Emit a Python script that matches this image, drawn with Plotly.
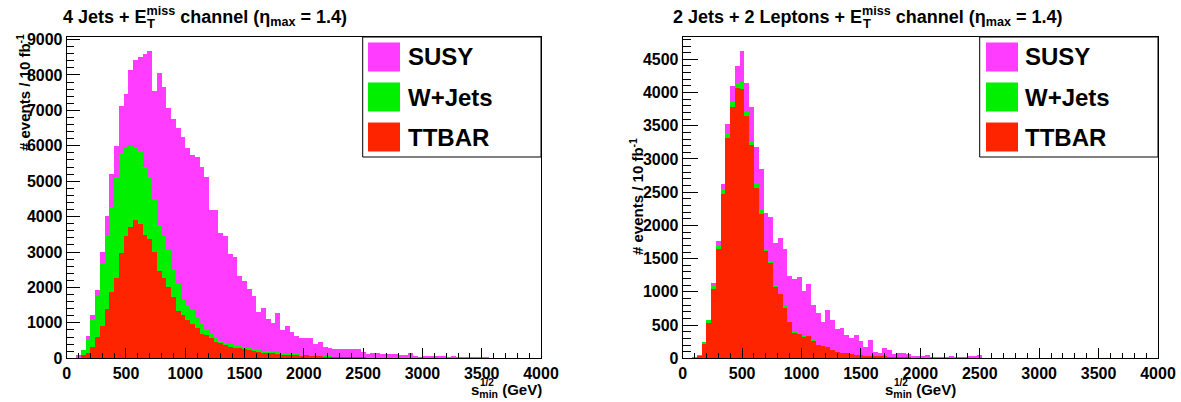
import plotly.graph_objects as go

W, H = 1181, 402

# ---------------- data (40 GeV bins, 0..4000 GeV) ----------------
bin_lo = list(range(0, 4000, 40))
bin_centers = [b + 20 for b in bin_lo]

# Left panel: 4 Jets + MET  (stacked heights as drawn: ttbar, ttbar+W, ttbar+W+SUSY)
left_ttbar = [0, 0, 20, 90, 150, 320, 600, 900, 1400, 1880, 2270, 2975, 3450, 3695, 3905, 3790,
              3490, 3370, 3005, 2460, 2270, 2020, 1725, 1340, 1220, 1085, 975, 845, 685, 650,
              580, 465, 435, 370, 320, 300, 280, 260, 240, 220, 170, 150, 140, 140, 130, 100,
              95, 85, 80, 75, 80, 70, 60, 55, 50, 45, 40, 40, 35, 30, 30, 25, 25, 20, 20, 15,
              15, 12, 10, 10, 8, 8, 6, 6, 5, 5, 4, 4, 3, 3, 2, 2, 2, 2, 1, 1, 1, 1, 1, 1,
              0, 0, 0, 0, 0, 0, 0, 0, 0, 0]
left_wjets = [0, 0, 40, 226, 555, 1119, 1750, 2653, 3471, 4271, 5117, 5757, 5936, 6002, 5980, 5855,
              5410, 5080, 4460, 3755, 3440, 3050, 2495, 2095, 1660, 1490, 1350, 1180, 1000, 840,
              700, 610, 500, 440, 400, 370, 340, 310, 280, 260, 235, 220, 200, 185, 170, 150,
              135, 125, 115, 105, 95, 85, 78, 70, 62, 56, 50, 46, 42, 38, 34, 30, 28, 25, 22, 20,
              18, 15, 14, 12, 11, 10, 9, 8, 7, 6, 6, 5, 5, 4, 4, 3, 3, 3, 2, 2, 2, 2, 1, 1,
              1, 1, 1, 0, 0, 0, 0, 0, 0, 0]
left_susy = [0, 10, 80, 245, 621, 1214, 1938, 3000, 4007, 5211, 5983, 7112, 7469, 8146, 8429, 8504,
             8580, 8673, 7550, 8050, 7650, 7060, 6750, 6490, 6260, 5930, 5740, 5680, 5400, 5130,
             4180, 4180, 3550, 3450, 2950, 2850, 2320, 2190, 1950, 1750, 1320, 1430, 1100, 1010,
             1280, 790, 900, 730, 640, 570, 565, 560, 415, 460, 310, 285, 275, 272, 270, 255,
             255, 250, 180, 115, 140, 140, 130, 125, 110, 110, 105, 95, 140, 66, 50, 70, 65, 60,
             75, 55, 50, 55, 45, 40, 45, 35, 30, 25, 30, 20, 15, 15, 12, 10, 10, 8, 6, 5, 4, 3]

# Right panel: 2 Jets + 2 Leptons + MET
right_ttbar = [0, 0, 10, 40, 220, 537, 1039, 1641, 2469, 3317, 3783, 4069, 4054, 3643, 3216, 2569,
               2168, 1611, 1435, 1074, 968, 763, 552, 386, 371, 321, 331, 261, 196, 181, 171, 130,
               100, 80, 75, 60, 45, 45, 40, 35, 35, 30, 30, 25, 20, 20, 15, 15, 12, 10, 10, 8,
               8, 6, 6, 5, 5, 4, 4, 3, 3, 2, 2, 2, 2, 1, 1, 1, 1, 1, 1, 0, 0, 0, 0, 0, 0, 0,
               0, 0, 0, 0, 0, 0, 0, 0, 0, 0, 0, 0, 0, 0, 0, 0, 0, 0, 0, 0, 0, 0]
right_wjets = [0, 0, 15, 50, 240, 572, 1084, 1711, 2549, 3392, 3874, 4145, 4155, 3708, 3266, 2624,
               2228, 1651, 1465, 1099, 978, 783, 567, 396, 380, 330, 340, 268, 202, 187, 176, 135,
               104, 84, 78, 63, 48, 47, 42, 37, 37, 32, 31, 26, 21, 21, 16, 16, 13, 11, 11, 9,
               9, 7, 7, 6, 6, 5, 5, 4, 4, 3, 3, 3, 3, 2, 2, 2, 2, 2, 2, 1, 1, 1, 0, 0, 0, 0,
               0, 0, 0, 0, 0, 0, 0, 0, 0, 0, 0, 0, 0, 0, 0, 0, 0, 0, 0, 0, 0, 0]
right_susy = [0, 0, 15, 55, 246, 575, 1139, 1766, 2629, 3522, 4099, 4395, 4621, 4150, 3783, 3181,
              2855, 2188, 2127, 1736, 1806, 1646, 1240, 1200, 1220, 1010, 1120, 800, 680, 550, 720,
              570, 440, 450, 356, 306, 346, 261, 166, 276, 95, 75, 150, 125, 65, 85, 75, 60, 30,
              30, 30, 45, 25, 25, 20, 20, 35, 15, 15, 15, 40, 30, 50, 10, 5, 5, 4, 4, 3, 3, 2,
              2, 2, 2, 1, 1, 1, 1, 1, 1, 0, 0, 0, 0, 0, 0, 0, 0, 0, 0, 0, 0, 0, 0, 0, 0, 0, 0, 0, 0]

series_names = ["SUSY", "W+Jets", "TTBAR"]
series_colors = ["#FF3CFF", "#00F000", "#FF2400"]

x_tick_vals = [0, 500, 1000, 1500, 2000, 2500, 3000, 3500, 4000]
left_title = "4 Jets + E"
right_title = "2 Jets + 2 Leptons + E"
y_title = "# events / 10 fb<sup>-1</sup>"

FONT = "Liberation Sans, Arial, Helvetica, sans-serif"

# Helvetica-Bold advance widths (per 1000 em) for text placement
HB = {' ': 278, '(': 333, ')': 333, '+': 584, '-': 333, '.': 278, '/': 278, '=': 584,
      'E': 667, 'G': 778, 'J': 556, 'L': 611, 'T': 611, 'V': 667,
      'a': 556, 'c': 556, 'e': 556, 'h': 611, 'i': 278, 'l': 278, 'm': 889, 'n': 611,
      'o': 611, 'p': 611, 's': 556, 't': 333, 'x': 556, 'η': 600}


def tw(s, size):
    return sum(HB.get(c, 556) for c in s) / 1000.0 * size


def px(x):
    return x / W


def py(y):
    return 1 - y / H


fig = go.Figure()

panels = [
    dict(xa="x", ya="y", stacks=[left_susy, left_wjets, left_ttbar]),
    dict(xa="x2", ya="y2", stacks=[right_susy, right_wjets, right_ttbar]),
]
for p in panels:
    for name, col, vals in zip(series_names, series_colors, p["stacks"]):
        fig.add_trace(go.Bar(x=bin_centers, y=vals, width=40, name=name,
                             marker=dict(color=col, line=dict(width=0)),
                             opacity=1, xaxis=p["xa"], yaxis=p["ya"], showlegend=False,
                             hoverinfo="skip"))

TICKFONT = dict(family=FONT, size=16, color="black", weight="bold")
ydom = [py(358.3), py(37)]
common_x = dict(range=[0, 4000], tickvals=x_tick_vals, ticks="inside", ticklen=10, tickwidth=1,
                tickcolor="black", minor=dict(ticks="inside", ticklen=5, dtick=100, tick0=0,
                                              tickcolor="black", tickwidth=1),
                showline=True, linecolor="black", linewidth=1, mirror=True, showgrid=False,
                zeroline=False, tickfont=TICKFONT, automargin=False, fixedrange=True)
common_y = dict(ticks="inside", tickwidth=1, tickcolor="black", showline=True, linecolor="black",
                linewidth=1, mirror=True, showgrid=False, zeroline=False, tickformat="d",
                tickfont=TICKFONT, automargin=False, fixedrange=True)

fig.update_layout(
    width=W, height=H, margin=dict(l=0, r=0, t=0, b=0, autoexpand=False),
    paper_bgcolor="white", plot_bgcolor="white",
    barmode="overlay", bargap=0, showlegend=False,
    xaxis=dict(domain=[px(66.7), px(541)], anchor="y", **common_x),
    xaxis2=dict(domain=[px(682.7), px(1158)], anchor="y2", **common_x),
    yaxis=dict(domain=ydom, anchor="x", range=[0, 9072], dtick=1000, ticklen=13,
               minor=dict(ticks="inside", ticklen=7, dtick=200, tickcolor="black", tickwidth=1),
               **common_y),
    yaxis2=dict(domain=ydom, anchor="x2", range=[0, 4836], dtick=500, ticklen=15,
                minor=dict(ticks="inside", ticklen=8, dtick=100, tickcolor="black", tickwidth=1),
                **common_y),
)

shapes = []
annotations = []


def ann(text, x, y, size, xanchor="left", yanchor="middle", angle=0):
    annotations.append(dict(text="<b>" + text + "</b>", x=px(x), y=py(y), xref="paper",
                            yref="paper", xanchor=xanchor, yanchor=yanchor, showarrow=False,
                            textangle=angle, borderpad=0,
                            font=dict(family=FONT, size=size, color="black")))


# Legends (drawn as boxes + text)
for bx, sx, tx in [(362.7, 368, 406.7), (979.7, 986, 1024)]:
    shapes.append(dict(type="rect", xref="paper", yref="paper", x0=px(bx), x1=px(bx + 178.3),
                       y0=py(157), y1=py(37), line=dict(color="black", width=1),
                       fillcolor="white", layer="above"))
    for i, (name, col) in enumerate(zip(series_names, series_colors)):
        yc = 57 + 40 * i
        shapes.append(dict(type="rect", xref="paper", yref="paper", x0=px(sx), x1=px(sx + 32),
                           y0=py(yc + 14.5), y1=py(yc - 14.5), line=dict(width=0),
                           fillcolor=col, layer="above"))
        ann(name, tx, yc, 24)

# Titles with stacked super/subscript
TS = 18
for x0, pre in [(62, left_title), (672, right_title)]:
    ann(pre + "<sup>miss</sup> channel (η<sub>max</sub> = 1.4)", x0, 16, TS)
    ann("T", x0 + tw(pre, TS) + 0.5, 24, round(TS * 0.7))

# x axis titles: s^{1/2}_{min} (GeV)
XS = 15
xt_w = tw("s", XS) + tw("min", XS * 0.7) + tw(" (GeV)", XS)
for x0 in [541 - xt_w, 920 - xt_w / 2]:
    ann("s<sub>min</sub> (GeV)", x0, 390, XS)
    ann("1/2", x0 + tw("s", XS) + 0.5, 382, round(XS * 0.7))

# y axis titles
ann(y_title, 23, 93, 15, xanchor="center", yanchor="middle", angle=-90)
ann(y_title, 636, 197, 15, xanchor="center", yanchor="middle", angle=-90)

fig.update_layout(shapes=shapes, annotations=annotations)
fig.write_html("out.html", config={"displayModeBar": False, "staticPlot": True},
               post_script="document.body.style.margin='0';document.body.style.overflow='hidden';")
